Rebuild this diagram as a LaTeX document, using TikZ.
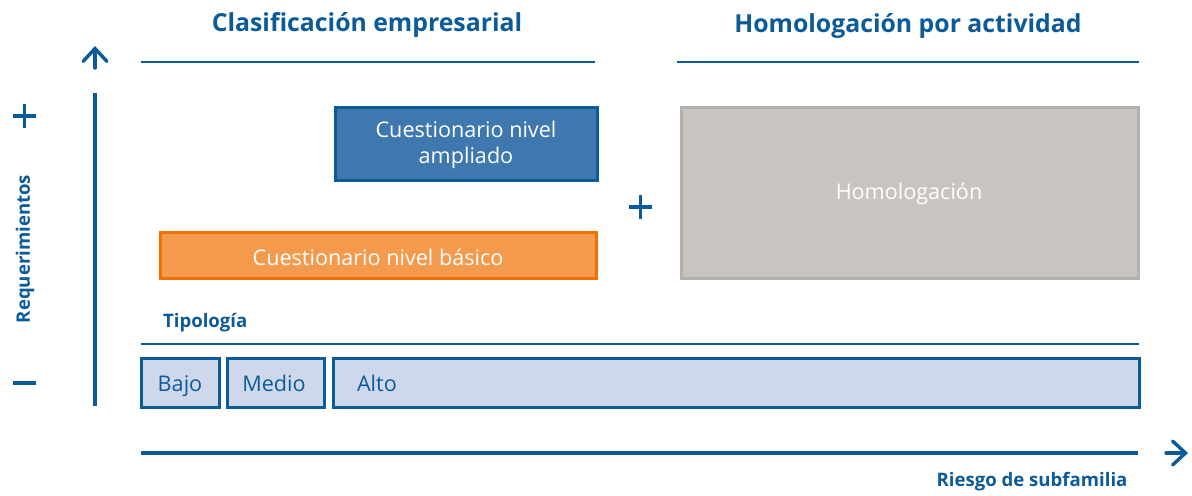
\documentclass[tikz,border=0pt]{standalone}
\usepackage{fontspec}
\setmainfont{Open Sans}
\usetikzlibrary{arrows.meta}
\definecolor{azul}{HTML}{0B5A9A}
\definecolor{azulbox}{HTML}{3E78AE}
\definecolor{naranja}{HTML}{F39A4C}
\definecolor{naranjaborde}{HTML}{EE7203}
\definecolor{gris}{HTML}{C8C4C0}
\definecolor{grisborde}{HTML}{B5B0AB}
\definecolor{celeste}{HTML}{CFD8EB}
\begin{document}
\begin{tikzpicture}[x=0.5pt,y=-0.5pt,
		title/.style={text=azul,font=\bfseries\fontsize{12.4}{15}\selectfont},
		small/.style={text=azul,font=\bfseries\fontsize{9.3}{11}\selectfont},
		caja/.style={draw,line width=1.5pt,inner sep=0pt,text=white,align=center,font=\fontsize{10.8}{13}\selectfont},
		tipo/.style={draw=azul,fill=celeste,line width=1.5pt},
		etiq/.style={text=azul,font=\fontsize{10.8}{13}\selectfont,anchor=base},
		flecha/.style={azul,line width=1.7pt,line cap=round,-{Straight Barb[length=6.5pt,width=12pt,line cap=round]}}]
		\useasboundingbox (0,0) rectangle (1192,495);
		% titulos
		\node[title] (clasif) at (367,25) {Clasificación empresarial};
		\node[title] (homol) at (908,26) {Homologación por actividad};
		\draw[azul,line width=0.6pt] (141,62) -- (595,62);
		\draw[azul,line width=0.6pt] (677,62) -- (1139,62);
		% eje vertical
		\draw[flecha] (95,68) -- (95,46);
		\draw[azul,line width=2pt] (95,93) -- (95,406);
		\draw[azul,line width=1.7pt] (13,116) -- (36,116) (24.5,104) -- (24.5,128);
		\draw[azul,line width=1.7pt] (13,383) -- (36,383);
		\node[small,rotate=90] (req) at (25,249) {Requerimientos};
		% cuestionarios
		\draw[caja,draw=azul,fill=azulbox] (335,107) rectangle (597,180);
		\node[caja,draw=none] (ampliado) at (466,145) {Cuestionario nivel\\ampliado};
		\draw[caja,draw=naranjaborde,fill=naranja] (160,232) rectangle (596,278);
		\node[caja,draw=none] (basico) at (378,257) {Cuestionario nivel básico};
		\draw[azul,line width=1.7pt] (629,207) -- (652,207) (640.5,195) -- (640.5,219);
		% homologacion
		\draw[caja,draw=grisborde,fill=gris] (681,107) rectangle (1138,278);
		\node[caja,draw=none] (homologacion) at (909,194) {Homologación};
		% tipologia
		\node[small,anchor=west] (tipologia) at (156,323) {Tipología};
		\draw[azul,line width=0.6pt] (141,344) -- (1139,344);
		\draw[tipo] (141,358) rectangle (219,407);
		\node[etiq] (bajo) at (180,391) {Bajo};
		\draw[tipo] (227,358) rectangle (324,407);
		\node[etiq] (medio) at (274,391) {Medio};
		\draw[tipo] (333,358) rectangle (1139,407);
		\node[etiq,anchor=base west] (alto) at (350,391) {Alto};
		% eje horizontal
		\draw[azul,line width=2pt] (141,453) -- (1138,453);
		\draw[flecha] (1166,453) -- (1188,453);
		\node[small] (riesgo) at (1032,482) {Riesgo de subfamilia};
	\end{tikzpicture}
\end{document}
